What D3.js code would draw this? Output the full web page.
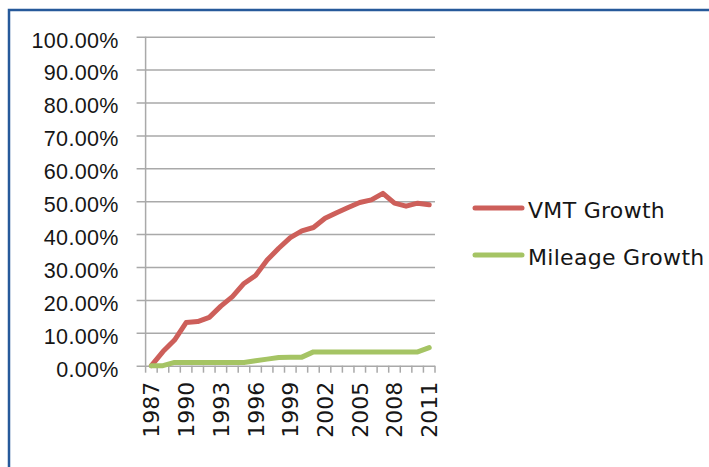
<!DOCTYPE html>
<html>
  <head>
    <style>
      html,
      body {
        margin: 0;
        padding: 0;
        background: #fff;
      }
      svg {
        display: block;
        font-family: 'DejaVu Sans', sans-serif;
      }
    </style>
  </head>
  <body>
    <svg width="709" height="467"></svg>
    <script src="https://cdn.jsdelivr.net/npm/d3@7"></script>
    <script>
      const years = d3.range(1987, 2012).map(String);
      const vmtGrowth = [0, 4.3, 7.8, 13.1, 13.4, 14.7, 18.1, 21, 25, 27.4, 32.1, 35.7, 38.9, 41, 42, 44.8, 46.5, 48.1, 49.6, 50.4, 52.4, 49.4, 48.5, 49.4, 48.9];
      const mileageGrowth = [0, 0, 1, 1, 1, 1, 1, 1, 1, 1.5, 2, 2.5, 2.6, 2.6, 4.2, 4.2, 4.2, 4.2, 4.2, 4.2, 4.2, 4.2, 4.2, 4.2, 5.5];
      const yTicks = [0, 10, 20, 30, 40, 50, 60, 70, 80, 90, 100];
      const xLabelYears = ['1987', '1990', '1993', '1996', '1999', '2002', '2005', '2008', '2011'];
      const seriesNames = ['VMT Growth', 'Mileage Growth'];
      const seriesColors = ['#cd5f5a', '#a5c464'];

      const svg = d3.select('svg');
      const x0 = 145.6, x1 = 435, yTop = 36.7, yBot = 365.7; // plot area

      const x = d3.scaleBand().domain(years).range([x0, x1]).padding(0);
      const y = d3.scaleLinear().domain([0, 100]).range([yBot, yTop]);

      // frame (only left and top edges are visible)
      svg.append('path')
        .attr('d', 'M9,467V10H709')
        .attr('fill', 'none')
        .attr('stroke', '#26599a')
        .attr('stroke-width', 2.5);

      // y gridlines + labels
      const yAxis = svg.append('g')
        .attr('transform', `translate(${x0 - 9},0)`)
        .call(d3.axisLeft(y).tickValues(yTicks).tickSize(-(x1 - x0 + 9)).tickPadding(18)
          .tickFormat((d) => d.toFixed(2) + '%'));
      yAxis.select('.domain').remove();
      yAxis.selectAll('.tick line').attr('stroke', '#a9a9a9').attr('stroke-width', 1.5);
      yAxis.selectAll('.tick text')
        .attr('fill', '#161616')
        .attr('dy', '0.48em')
        .style('font-size', '21.5px')
        .style('letter-spacing', '0.3px');

      // vertical axis line
      svg.append('line')
        .attr('x1', x0).attr('x2', x0).attr('y1', yTop).attr('y2', yBot)
        .attr('stroke', '#a9a9a9').attr('stroke-width', 1.5);

      // x axis ticks at band boundaries
      const bounds = years.map((d) => x(d)).concat([x1]);
      svg.append('g').selectAll('line')
        .data(bounds)
        .join('line')
        .attr('x1', (d) => d).attr('x2', (d) => d)
        .attr('y1', yBot).attr('y2', yBot + 7)
        .attr('stroke', '#a9a9a9').attr('stroke-width', 1.5);

      // x labels, rotated
      svg.append('g').selectAll('text')
        .data(xLabelYears)
        .join('text')
        .attr('transform', (d) => `translate(${x(d) + x.bandwidth() / 2 + 8},${yBot + 16}) rotate(-90)`)
        .attr('text-anchor', 'end')
        .attr('fill', '#161616')
        .style('font-size', '22px')
        .text((d) => d);

      // lines
      const line = d3.line()
        .x((d, i) => x(years[i]) + x.bandwidth() / 2)
        .y((d) => y(d));

      [vmtGrowth, mileageGrowth].forEach((vals, k) => {
        svg.append('path')
          .datum(vals)
          .attr('d', line)
          .attr('fill', 'none')
          .attr('stroke', seriesColors[k])
          .attr('stroke-width', 5)
          .attr('stroke-linejoin', 'round')
          .attr('stroke-linecap', 'round');
      });

      // legend
      const legend = svg.append('g').attr('transform', 'translate(475,208)');
      const item = legend.selectAll('g')
        .data(seriesNames)
        .join('g')
        .attr('transform', (d, i) => `translate(0,${i * 47})`);
      item.append('line')
        .attr('x1', 0).attr('x2', 47)
        .attr('stroke', (d, i) => seriesColors[i])
        .attr('stroke-width', 5)
        .attr('stroke-linecap', 'round');
      item.append('text')
        .attr('x', 53)
        .attr('y', 10)
        .attr('fill', '#161616')
        .style('font-size', '22px')
        .style('letter-spacing', '0.3px')
        .text((d) => d);
    </script>
  </body>
</html>
